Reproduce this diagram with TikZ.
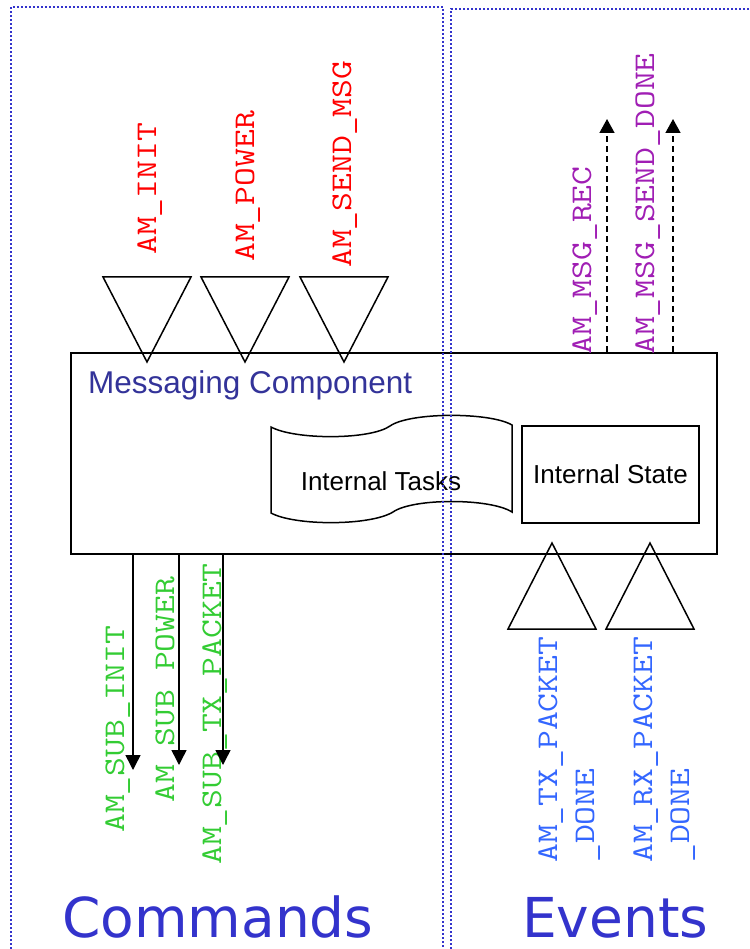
\documentclass[tikz,border=0pt]{standalone}
\usepackage{fontspec}
\setmainfont{Liberation Sans}
\newfontfamily\monofont[FakeStretch=1.22]{Latin Modern Mono}
\newfontfamily\titlefont{DejaVu Sans}
\usetikzlibrary{arrows.meta}
\definecolor{dotblue}{RGB}{51,51,204}
\definecolor{compblue}{RGB}{51,51,153}
\definecolor{cmdred}{RGB}{255,0,0}
\definecolor{subgreen}{RGB}{51,204,51}
\definecolor{evblue}{RGB}{51,102,255}
\definecolor{msgpurple}{RGB}{160,30,180}
\begin{document}
\begin{tikzpicture}[x=1pt, y=-1pt,
    every node/.style={inner sep=0pt},
    sig/.style={font=\monofont\fontsize{30}{37}\selectfont, rotate=90, anchor=base west},
    port/.style={draw, line width=1.5pt},
    cmdarrow/.style={line width=1.5pt, -{Triangle[length=15pt, width=15pt]}},
    evarrow/.style={line width=1.5pt, dash pattern=on 6pt off 4pt, -{Triangle[length=14pt, width=15pt]}},
    area/.style={dotblue, line width=1.6pt, dash pattern=on 2pt off 2pt}]
    \useasboundingbox (0,0) rectangle (749,949);

    \node[draw, line width=1.5pt, minimum width=646pt, minimum height=201pt, anchor=north west] (comp) at (70,352) {};
    \node[anchor=base west, font=\fontsize{31.5}{36}\selectfont, text=compblue] (title) at (88,393) {Messaging Component};

    \draw[line width=1.5pt] (271,427) .. controls (295,440) and (370,440) .. (390,426)
        .. controls (410,412) and (490,412) .. (512,425) -- (512,512)
        .. controls (490,498) and (413,498) .. (393,512)
        .. controls (370,526) and (295,526) .. (271,513) -- cycle;
    \node[anchor=base, font=\fontsize{26}{30}\selectfont] (tasks) at (381,490) {Internal Tasks};
    \node[draw, line width=1.5pt, minimum width=177pt, minimum height=97pt, font=\fontsize{26}{30}\selectfont] (state) at (610.5,474.5) {Internal State};

    \foreach \x in {147,245,344}
        \draw[port] (\x-44,277) -- (\x+44,277) -- (\x,362) -- cycle;
    \foreach \x in {552,650}
        \draw[port] (\x-44,629) -- (\x+44,629) -- (\x,543) -- cycle;

    \node[sig, text=cmdred] (init) at (156,255) {AM\_INIT};
    \node[sig, text=cmdred] (power) at (254,262) {AM\_POWER};
    \node[sig, text=cmdred] (send) at (351,268) {AM\_SEND\_MSG};

    \node[sig, text=subgreen] (subinitlbl) at (124,833) {AM\_SUB\_INIT};
    \node[sig, text=subgreen] (subpowerlbl) at (174,803) {AM\_SUB\_POWER};
    \node[sig, text=subgreen] (subtxlbl) at (221,865) {AM\_SUB\_TX\_PACKET};

    \node[sig, text=evblue, align=left] (txdone) at (594,863) {AM\_TX\_PACKET\\\_DONE};
    \node[sig, text=evblue, align=left] (rxdone) at (689,863) {AM\_RX\_PACKET\\\_DONE};

    \node[sig, text=msgpurple] (msgreclbl) at (591,355) {AM\_MSG\_REC};
    \node[sig, text=msgpurple] (msgdonelbl) at (654,355) {AM\_MSG\_SEND\_DONE};

    \coordinate (subinit) at (133,770);
    \coordinate (subpower) at (179,765);
    \coordinate (subtx) at (223,765);
    \coordinate (msgrec) at (607,119);
    \coordinate (msgdone) at (673,119);
    \draw[cmdarrow] (subinit |- comp.south) -- (subinit);
    \draw[cmdarrow] (subpower |- comp.south) -- (subpower);
    \draw[cmdarrow] (subtx |- comp.south) -- (subtx);
    \draw[evarrow] (msgrec |- comp.north) -- (msgrec);
    \draw[evarrow] (msgdone |- comp.north) -- (msgdone);

    \node[anchor=base west, font=\titlefont\fontsize{55}{60}\selectfont, text=dotblue] (commands) at (62,937) {Commands};
    \node[anchor=base west, font=\titlefont\fontsize{55}{60}\selectfont, text=dotblue] (events) at (522,937) {Events};

    \draw[area] (11,949) -- (11,7) -- (443,7) -- (443,949);
    \draw[area] (451,949) -- (451,9) -- (749,9);
\end{tikzpicture}
\end{document}
